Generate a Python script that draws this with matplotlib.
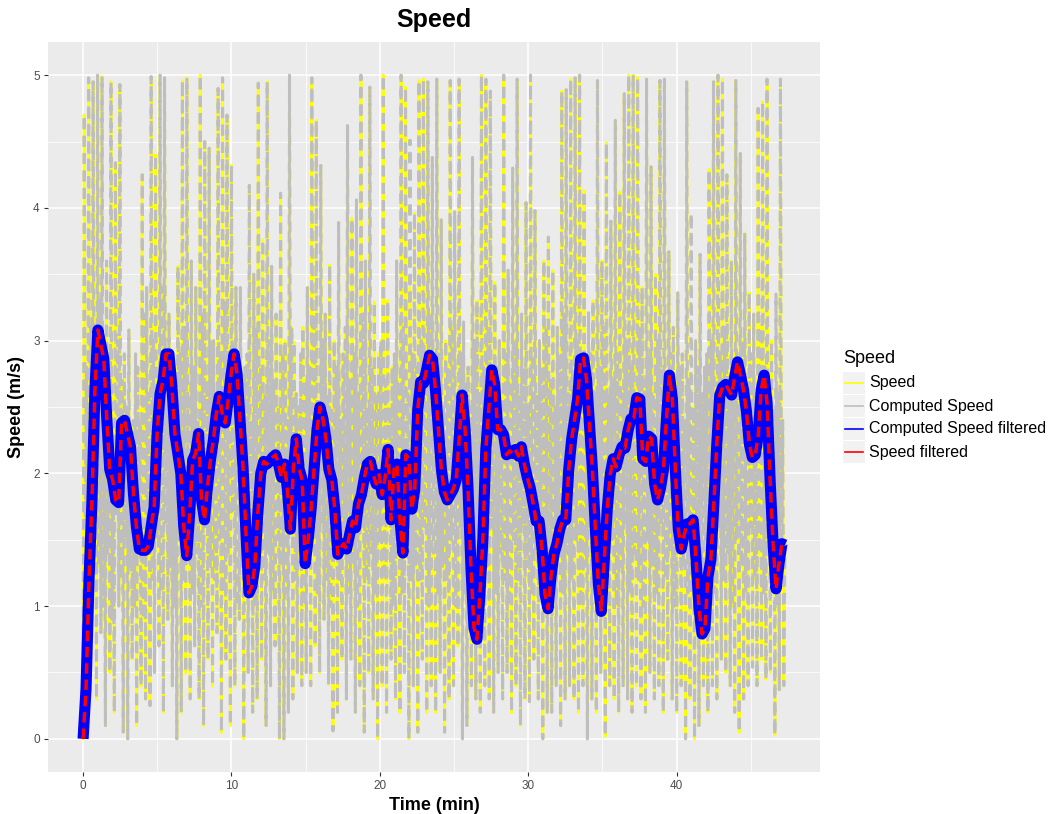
import numpy as np
import matplotlib.pyplot as plt
from matplotlib.patches import Rectangle
from matplotlib.lines import Line2D

plt.rcParams["font.family"] = ["Liberation Sans", "DejaVu Sans"]

t_end = 47.3

# raw speed (m/s), about every 0.075 min
speed = [
    0.0, 4.7, 1.6, 2.8, 0.5, 4.98, 1.1, 3.1, 1.2, 4.95, 1.8, 2.6, 0.3, 5.0, 1.3, 3.3, 0.8, 4.99, 1.0, 2.4,
    0.1, 3.6, 1.4, 2.9, 0.5, 4.95, 0.9, 2.2, 0.2, 4.34, 1.7, 3.0, 1.0, 4.93, 1.2, 2.7, 0.05, 2.9, 1.5, 2.5,
    0.0, 3.08, 1.3, 2.2, 0.6, 2.4, 1.0, 2.9, 0.1, 2.8, 1.6, 2.4, 0.4, 4.25, 0.9, 3.2, 0.3, 3.4, 1.4, 2.6,
    0.25, 4.99, 1.2, 3.0, 0.5, 4.4, 1.5, 2.5, 0.7, 5.0, 1.1, 3.4, 0.2, 4.98, 1.6, 2.8, 0.9, 3.2, 1.3, 2.3,
    0.4, 2.7, 1.0, 2.5, 0.0, 3.56, 1.5, 2.9, 0.2, 4.96, 1.2, 3.1, 0.5, 4.98, 1.7, 2.6, 0.3, 3.6, 1.1, 2.8,
    0.7, 3.4, 1.4, 2.4, 0.3, 5.0, 1.0, 3.2, 0.1, 4.5, 1.6, 2.7, 0.6, 4.45, 1.3, 3.0, 0.4, 3.0, 1.2, 2.5,
    0.8, 4.9, 1.5, 2.9, 0.05, 4.98, 1.1, 3.3, 0.6, 4.7, 1.4, 2.6, 0.1, 4.32, 1.7, 3.0, 0.4, 3.4, 1.0, 2.7,
    0.9, 3.4, 1.3, 2.5, 0.0, 2.8, 1.2, 2.9, 0.5, 4.17, 1.5, 2.4, 0.2, 3.5, 1.0, 3.1, 0.3, 4.94, 1.6, 2.8,
    0.6, 3.76, 1.2, 2.6, 0.1, 4.95, 1.4, 3.0, 0.4, 3.56, 1.1, 2.7, 0.7, 3.2, 1.5, 2.5, 0.0, 4.11, 1.3, 2.9,
    0.0, 3.0, 1.1, 2.4, 0.2, 5.0, 1.6, 3.1, 0.3, 2.99, 1.2, 2.6, 0.5, 2.5, 1.4, 2.9, 0.4, 3.1, 1.0, 2.7,
    0.5, 3.4, 1.3, 2.8, 0.4, 4.98, 1.5, 3.2, 0.7, 4.66, 1.1, 2.5, 0.5, 4.32, 1.6, 3.0, 0.9, 3.2, 1.2, 2.6,
    0.41, 3.57, 1.0, 2.5, 0.06, 3.0, 1.4, 2.8, 0.2, 3.89, 1.2, 2.4, 0.6, 2.9, 1.5, 3.1, 0.3, 4.62, 1.1, 2.7,
    0.6, 3.92, 1.3, 2.9, 0.2, 4.06, 1.0, 2.6, 0.4, 5.0, 1.6, 3.2, 0.05, 3.6, 1.2, 2.5, 0.5, 4.91, 1.4, 2.8,
    0.3, 3.29, 1.1, 2.6, 0.0, 2.9, 1.5, 3.0, 0.4, 5.0, 1.2, 2.7, 0.2, 3.3, 1.6, 2.5, 0.6, 2.8, 1.0, 2.9,
    0.3, 3.6, 1.4, 2.7, 0.2, 5.0, 1.1, 3.1, 0.5, 4.91, 1.5, 2.6, 0.0, 3.4, 1.2, 2.9, 0.4, 3.96, 1.3, 2.8,
    0.05, 4.96, 1.2, 3.0, 0.6, 4.97, 1.6, 2.7, 0.2, 4.95, 1.0, 3.2, 0.4, 4.38, 1.4, 2.6, 0.2, 4.97, 1.1, 2.9,
    0.5, 3.91, 1.3, 2.5, 0.05, 3.0, 1.2, 2.8, 0.3, 4.96, 1.5, 3.1, 0.4, 3.97, 1.0, 2.6, 0.7, 4.97, 1.6, 2.9,
    0.0, 3.14, 1.1, 2.7, 0.1, 2.8, 1.4, 2.5, 0.4, 4.38, 1.2, 3.0, 0.3, 3.3, 1.5, 2.6, 0.2, 5.0, 1.0, 2.8,
    0.4, 4.97, 1.3, 3.1, 0.3, 4.88, 1.6, 2.6, 0.2, 3.44, 1.1, 2.8, 0.5, 3.0, 1.4, 2.5, 0.3, 5.0, 1.2, 2.9,
    0.5, 3.53, 1.0, 2.7, 0.2, 4.3, 1.5, 3.0, 0.4, 4.97, 1.2, 2.6, 0.1, 3.2, 1.6, 2.8, 0.3, 4.04, 1.3, 2.5,
    0.28, 5.0, 1.1, 2.9, 0.6, 3.98, 1.4, 2.6, 0.3, 3.0, 1.2, 2.8, 0.0, 3.6, 1.5, 3.1, 0.2, 3.78, 1.0, 2.7,
    0.2, 3.53, 1.3, 2.5, 0.4, 3.1, 1.6, 2.9, 0.1, 4.88, 1.1, 3.2, 0.3, 4.89, 1.4, 2.6, 0.4, 4.97, 1.2, 2.8,
    0.3, 4.98, 1.5, 3.0, 0.2, 5.0, 1.0, 2.7, 0.4, 4.13, 1.3, 2.5, 0.0, 3.21, 1.6, 2.9, 0.3, 3.3, 1.2, 2.6,
    0.2, 4.96, 1.1, 2.8, 0.5, 3.6, 1.4, 3.1, 0.02, 4.49, 1.2, 2.6, 0.4, 3.9, 1.5, 2.7, 0.3, 4.66, 1.0, 2.9,
    0.2, 4.12, 1.3, 2.6, 0.4, 4.86, 1.6, 3.0, 0.3, 5.0, 1.1, 2.8, 0.2, 5.0, 1.4, 2.5, 0.4, 4.98, 1.2, 3.1,
    0.3, 3.4, 1.0, 2.7, 0.2, 4.97, 1.5, 2.9, 0.5, 4.31, 1.3, 2.6, 0.3, 3.5, 1.1, 3.0, 0.4, 4.96, 1.6, 2.8,
    0.2, 4.97, 1.2, 2.5, 0.6, 3.67, 1.4, 2.9, 0.3, 3.1, 1.0, 2.6, 0.2, 3.36, 1.5, 2.8, 0.4, 2.9, 1.3, 2.4,
    0.0, 4.95, 1.1, 2.7, 0.3, 2.1, 1.2, 2.5, 0.0, 3.0, 1.4, 2.8, 0.1, 3.65, 1.0, 2.6, 0.4, 2.8, 1.5, 2.9,
    0.2, 4.29, 1.3, 3.0, 0.4, 4.95, 1.1, 2.6, 0.3, 5.0, 1.6, 2.9, 0.6, 4.97, 1.2, 3.1, 0.5, 4.25, 1.4, 2.7,
    0.4, 3.6, 1.0, 2.8, 0.2, 4.96, 1.5, 2.6, 0.05, 4.41, 1.3, 3.0, 0.3, 3.81, 1.1, 2.7, 0.4, 3.36, 1.6, 2.9,
    0.54, 3.2, 1.2, 2.6, 0.4, 4.75, 1.4, 3.1, 0.6, 4.8, 1.1, 2.8, 0.45, 4.97, 1.5, 2.7, 0.5, 3.0, 1.3, 2.5,
    0.03, 2.2, 1.0, 2.6, 0.37, 4.97, 1.2, 2.4, 0.4, 1.5,
]

computed_speed = [
    0.0, 4.7, 1.6, 2.8, 0.5, 4.98, 1.1, 3.1, 1.2, 4.95, 1.8, 2.6, 0.3, 5.0, 1.3, 3.3, 0.8, 4.99, 1.0, 2.4,
    0.1, 3.6, 1.4, 2.9, 0.5, 4.95, 0.9, 2.2, 0.2, 4.34, 1.7, 3.0, 1.0, 4.93, 1.2, 2.7, 0.05, 2.9, 1.5, 2.5,
    0.0, 3.08, 1.3, 2.2, 0.6, 2.4, 1.0, 2.9, 0.1, 2.8, 1.6, 2.4, 0.4, 4.25, 0.9, 3.2, 0.3, 3.4, 1.4, 2.6,
    0.25, 4.99, 1.2, 3.0, 0.5, 4.4, 1.5, 2.5, 0.7, 5.0, 1.1, 3.4, 0.2, 4.98, 1.6, 2.8, 0.9, 3.2, 1.3, 2.3,
    0.4, 2.7, 1.0, 2.5, 0.0, 3.56, 1.5, 2.9, 0.2, 4.96, 1.2, 3.1, 0.5, 4.98, 1.7, 2.6, 0.3, 3.6, 1.1, 2.8,
    0.7, 3.4, 1.4, 2.4, 0.3, 5.0, 1.0, 3.2, 0.1, 4.5, 1.6, 2.7, 0.6, 4.45, 1.3, 3.0, 0.4, 3.0, 1.2, 2.5,
    0.8, 4.9, 1.5, 2.9, 0.05, 4.98, 1.1, 3.3, 0.6, 4.7, 1.4, 2.6, 0.1, 4.32, 1.7, 3.0, 0.4, 3.4, 1.0, 2.7,
    0.9, 3.4, 1.3, 2.5, 0.0, 2.8, 1.2, 2.9, 0.5, 4.17, 1.5, 2.4, 0.2, 3.5, 1.0, 3.1, 0.3, 4.94, 1.6, 2.8,
    0.6, 3.76, 1.2, 2.6, 0.1, 4.95, 1.4, 3.0, 0.4, 3.56, 1.1, 2.7, 0.7, 3.2, 1.5, 2.5, 0.0, 4.11, 1.3, 2.9,
    0.0, 3.0, 1.1, 2.4, 0.2, 5.0, 1.6, 3.1, 0.3, 2.99, 1.2, 2.6, 0.5, 2.5, 1.4, 2.9, 0.4, 3.1, 1.0, 2.7,
    0.5, 3.4, 1.3, 2.8, 0.4, 4.98, 1.5, 3.2, 0.7, 4.66, 1.1, 2.5, 0.5, 4.32, 1.6, 3.0, 0.9, 3.2, 1.2, 2.6,
    0.41, 3.57, 1.0, 2.5, 0.06, 3.0, 1.4, 2.8, 0.2, 3.89, 1.2, 2.4, 0.6, 2.9, 1.5, 3.1, 0.3, 4.62, 1.1, 2.7,
    0.6, 3.92, 1.3, 2.9, 0.2, 4.06, 1.0, 2.6, 0.4, 5.0, 1.6, 3.2, 0.05, 3.6, 1.2, 2.5, 0.5, 4.91, 1.4, 2.8,
    0.3, 3.29, 1.1, 2.6, 0.0, 2.9, 1.5, 3.0, 0.4, 5.0, 1.2, 2.7, 0.2, 3.3, 1.6, 2.5, 0.6, 2.8, 1.0, 2.9,
    0.3, 3.6, 1.4, 2.7, 0.2, 5.0, 1.1, 3.1, 0.5, 4.91, 1.5, 2.6, 0.0, 4.51, 1.2, 2.9, 0.4, 3.96, 1.3, 2.8,
    0.05, 4.96, 1.2, 3.0, 0.6, 4.97, 1.6, 2.7, 0.2, 4.95, 1.0, 3.2, 0.4, 4.38, 1.4, 2.6, 0.2, 4.97, 1.1, 2.9,
    0.5, 3.91, 1.3, 2.5, 0.05, 3.0, 1.2, 2.8, 0.3, 4.96, 1.5, 3.1, 0.4, 3.97, 1.0, 2.6, 0.7, 4.97, 1.6, 2.9,
    0.0, 3.14, 1.1, 2.7, 0.1, 2.8, 1.4, 2.5, 0.4, 4.38, 1.2, 3.0, 0.3, 3.3, 1.5, 2.6, 0.2, 5.0, 1.0, 2.8,
    0.4, 4.97, 1.3, 3.1, 0.3, 4.88, 1.6, 2.6, 0.2, 3.44, 1.1, 2.8, 0.5, 3.0, 1.4, 2.5, 0.3, 5.0, 1.2, 2.9,
    0.5, 3.53, 1.0, 2.7, 0.2, 4.3, 1.5, 3.0, 0.4, 4.97, 1.2, 2.6, 0.1, 3.2, 1.6, 2.8, 0.3, 4.04, 1.3, 2.5,
    0.28, 5.0, 1.1, 2.9, 0.6, 3.98, 1.4, 2.6, 0.3, 3.0, 1.2, 2.8, 0.0, 3.6, 1.5, 3.1, 0.2, 3.78, 1.0, 2.7,
    0.2, 3.53, 1.3, 2.5, 0.4, 3.1, 1.6, 2.9, 0.1, 4.88, 1.1, 3.2, 0.3, 4.89, 1.4, 2.6, 0.4, 4.97, 1.2, 2.8,
    0.3, 4.98, 1.5, 3.0, 0.2, 5.0, 1.0, 2.7, 0.4, 4.13, 1.3, 2.5, 0.0, 3.21, 1.6, 2.9, 0.3, 3.3, 1.2, 2.6,
    0.2, 4.96, 1.1, 2.8, 0.5, 3.6, 1.4, 3.1, 0.02, 4.49, 1.2, 2.6, 0.4, 3.9, 1.5, 2.7, 0.3, 4.66, 1.0, 2.9,
    0.2, 4.12, 1.3, 2.6, 0.4, 4.86, 1.6, 3.0, 0.3, 5.0, 1.1, 2.8, 0.2, 5.0, 1.4, 2.5, 0.4, 4.98, 1.2, 3.1,
    0.3, 3.4, 1.0, 2.7, 0.2, 4.97, 1.5, 2.9, 0.5, 4.31, 1.3, 2.6, 0.3, 3.5, 1.1, 3.0, 0.4, 4.96, 1.6, 2.8,
    0.2, 4.97, 1.2, 2.5, 0.6, 3.67, 1.4, 2.9, 0.3, 3.1, 1.0, 2.6, 0.2, 3.36, 1.5, 2.8, 0.4, 2.9, 1.3, 2.4,
    0.0, 4.95, 1.1, 2.7, 0.3, 3.96, 1.2, 2.5, 0.0, 3.0, 1.4, 2.8, 0.1, 3.65, 1.0, 2.6, 0.4, 2.8, 1.5, 2.9,
    0.2, 4.29, 1.3, 3.0, 0.4, 4.95, 1.1, 2.6, 0.3, 5.0, 1.6, 2.9, 0.6, 4.97, 1.2, 3.1, 0.5, 4.25, 1.4, 2.7,
    0.4, 3.6, 1.0, 2.8, 0.2, 4.96, 1.5, 2.6, 0.05, 4.41, 1.3, 3.0, 0.3, 3.81, 1.1, 2.7, 0.4, 3.36, 1.6, 2.9,
    0.54, 3.2, 1.2, 2.6, 0.4, 4.75, 1.4, 3.1, 0.6, 4.8, 1.1, 2.8, 0.45, 4.97, 1.5, 2.7, 0.5, 3.0, 1.3, 2.5,
    0.03, 3.35, 1.0, 2.6, 0.37, 4.97, 1.2, 2.4, 0.4, 1.5,
]

# filtered series, about every 0.2 min
computed_filtered = [
    0.00, 0.38, 1.20, 1.80, 2.63, 3.08, 2.97, 2.86, 2.41, 2.03,
    1.95, 1.80, 1.78, 2.38, 2.40, 2.30, 2.20, 1.85, 1.60, 1.43,
    1.42, 1.42, 1.45, 1.60, 1.75, 2.30, 2.60, 2.70, 2.90, 2.90,
    2.65, 2.30, 2.15, 2.00, 1.60, 1.38, 1.70, 2.10, 2.15, 2.30,
    1.80, 1.65, 1.90, 2.10, 2.25, 2.45, 2.58, 2.45, 2.38, 2.55,
    2.75, 2.90, 2.75, 2.40, 2.05, 1.55, 1.10, 1.15, 1.30, 1.70,
    2.00, 2.09, 2.07, 2.09, 2.12, 2.14, 2.07, 1.97, 2.07, 1.88,
    1.58, 2.03, 2.26, 2.03, 1.95, 1.32, 1.50, 1.73, 2.03, 2.33,
    2.50, 2.41, 2.26, 2.03, 1.95, 1.73, 1.39, 1.44, 1.47, 1.43,
    1.54, 1.64, 1.59, 1.77, 1.84, 1.97, 2.07, 2.09, 1.99, 1.92,
    1.99, 1.84, 1.97, 2.18, 1.65, 2.03, 2.07, 1.65, 1.40, 2.14,
    2.11, 1.73, 1.88, 2.48, 2.69, 2.68, 2.78, 2.89, 2.86, 2.63,
    2.33, 2.03, 1.86, 1.80, 1.84, 1.88, 1.95, 2.26, 2.59, 2.33,
    1.88, 1.28, 0.84, 0.75, 1.09, 1.50, 2.18, 2.48, 2.78, 2.67,
    2.33, 2.33, 2.29, 2.14, 2.17, 2.15, 2.18, 2.13, 2.20, 2.07,
    1.97, 1.89, 1.77, 1.64, 1.64, 1.43, 1.09, 0.98, 1.22, 1.39,
    1.47, 1.58, 1.65, 1.65, 2.03, 2.26, 2.41, 2.56, 2.86, 2.87,
    2.71, 2.37, 2.03, 1.58, 1.17, 0.96, 1.35, 1.73, 1.99, 2.11,
    2.05, 2.14, 2.20, 2.19, 2.32, 2.41, 2.42, 2.57, 2.56, 2.11,
    2.09, 2.28, 2.26, 1.92, 1.80, 1.89, 2.03, 2.41, 2.74, 2.56,
    2.03, 1.58, 1.43, 1.54, 1.62, 1.62, 1.65, 1.35, 0.98, 0.79,
    0.83, 1.22, 1.35, 1.77, 2.22, 2.59, 2.65, 2.67, 2.63, 2.59,
    2.72, 2.84, 2.74, 2.63, 2.47, 2.22, 2.12, 2.14, 2.29, 2.63,
    2.74, 2.52, 1.95, 1.47, 1.13, 1.32, 1.47, 1.46,
]

speed_filtered = [
    0.00, 0.38, 1.20, 1.80, 2.63, 3.08, 2.97, 2.86, 2.41, 2.03,
    1.95, 1.80, 1.78, 2.38, 2.40, 2.30, 2.20, 1.85, 1.60, 1.43,
    1.42, 1.42, 1.45, 1.60, 1.75, 2.30, 2.60, 2.70, 2.90, 2.90,
    2.65, 2.30, 2.15, 2.00, 1.60, 1.38, 1.70, 2.10, 2.15, 2.30,
    1.80, 1.65, 1.90, 2.10, 2.25, 2.45, 2.58, 2.45, 2.38, 2.55,
    2.75, 2.90, 2.75, 2.40, 2.05, 1.55, 1.10, 1.15, 1.30, 1.70,
    2.00, 2.09, 2.07, 2.09, 2.12, 2.14, 2.07, 1.97, 2.07, 1.88,
    1.58, 2.03, 2.26, 2.03, 1.95, 1.32, 1.50, 1.73, 2.03, 2.33,
    2.50, 2.41, 2.26, 2.03, 1.95, 1.73, 1.39, 1.44, 1.47, 1.43,
    1.54, 1.64, 1.59, 1.77, 1.84, 1.97, 2.07, 2.09, 1.99, 1.92,
    1.99, 1.84, 1.97, 2.18, 1.65, 2.03, 2.07, 1.65, 1.40, 2.14,
    2.11, 1.73, 1.88, 2.48, 2.69, 2.68, 2.78, 2.89, 2.86, 2.63,
    2.33, 2.03, 1.86, 1.80, 1.84, 1.88, 1.95, 2.26, 2.59, 2.33,
    1.88, 1.28, 0.84, 0.75, 1.09, 1.50, 2.18, 2.48, 2.78, 2.67,
    2.33, 2.33, 2.29, 2.14, 2.17, 2.15, 2.18, 2.13, 2.20, 2.07,
    1.97, 1.89, 1.77, 1.64, 1.64, 1.43, 1.09, 0.98, 1.22, 1.39,
    1.47, 1.58, 1.65, 1.65, 2.03, 2.26, 2.41, 2.56, 2.86, 2.87,
    2.71, 2.37, 2.03, 1.58, 1.17, 0.96, 1.35, 1.73, 1.99, 2.11,
    2.05, 2.14, 2.20, 2.19, 2.32, 2.41, 2.42, 2.57, 2.56, 2.11,
    2.09, 2.28, 2.26, 1.92, 1.80, 1.89, 2.03, 2.41, 2.74, 2.56,
    2.03, 1.58, 1.43, 1.54, 1.62, 1.62, 1.65, 1.35, 0.98, 0.79,
    0.83, 1.22, 1.35, 1.77, 2.22, 2.59, 2.65, 2.67, 2.63, 2.59,
    2.72, 2.84, 2.74, 2.63, 2.47, 2.22, 2.12, 2.14, 2.29, 2.63,
    2.74, 2.52, 1.95, 1.47, 1.13, 1.32, 1.47, 1.46,
]

series_names = ["Speed", "Computed Speed", "Computed Speed filtered", "Speed filtered"]
series_colors = ["#FFFF00", "#BEBEBE", "#0000FF", "#FF0000"]

t_raw = np.linspace(0, t_end, len(speed))
t_filt = np.linspace(0, t_end, len(computed_filtered))

W, H = 1049, 814
fig = plt.figure(figsize=(W / 100, H / 100), dpi=100)
ax = fig.add_axes([48 / W, 1 - 772 / H, (820 - 48) / W, (772 - 42) / H])
ax.set_facecolor("#EBEBEB")
for s in ax.spines.values():
    s.set_visible(False)

# yellow underneath, only shows through the gaps of the grey dashes
ax.plot(t_raw, speed, color=series_colors[0], lw=2.0)
ax.plot(t_raw, computed_speed, color=series_colors[1], lw=2.2, ls=(0, (3.5, 2.2)))
ax.plot(t_filt, computed_filtered, color=series_colors[2], lw=8,
        solid_joinstyle="round", solid_capstyle="butt")
ax.plot(t_filt, speed_filtered, color=series_colors[3], lw=2.5, ls=(0, (3, 1.7)))

ax.set_xlim(-0.05 * t_end, 1.05 * t_end)
ax.set_ylim(-0.25, 5.25)
ax.set_xticks([0, 10, 20, 30, 40])
ax.set_xticks([5, 15, 25, 35, 45], minor=True)
ax.set_yticks([0, 1, 2, 3, 4, 5])
ax.set_yticks([0.5, 1.5, 2.5, 3.5, 4.5], minor=True)
ax.grid(which="major", color="white", lw=1.1)
ax.grid(which="minor", color="white", lw=0.55)
ax.set_axisbelow(True)
ax.tick_params(which="major", length=3, width=0.8, color="#333333",
               labelsize=8.5, labelcolor="#4D4D4D", pad=3)
ax.tick_params(which="minor", length=0)

ax.set_xlabel("Time (min)", fontsize=13, fontweight="bold", labelpad=3)
ax.set_ylabel("Speed (m/s)", fontsize=13, fontweight="bold", labelpad=6)
fig.text(434 / W, 1 - 20 / H, "Speed", ha="center", va="center",
         fontsize=18, fontweight="bold")

# legend, drawn by hand in figure pixels
fig.text(843 / W, 1 - 359 / H, "Speed", ha="left", va="center", fontsize=13)
for i, (name, col) in enumerate(zip(series_names, series_colors)):
    top = 372 + 23 * i
    yc = 1 - (top + 11) / H
    fig.add_artist(Rectangle((843 / W, 1 - (top + 22) / H), 22 / W, 22 / H,
                             transform=fig.transFigure, facecolor="#F2F2F2",
                             edgecolor="none"))
    fig.add_artist(Line2D([845 / W, 863 / W], [yc, yc], transform=fig.transFigure,
                          color=col, lw=1.2))
    fig.text(869 / W, yc, name, ha="left", va="center", fontsize=11.5)

fig.savefig("out.png", dpi=100)
